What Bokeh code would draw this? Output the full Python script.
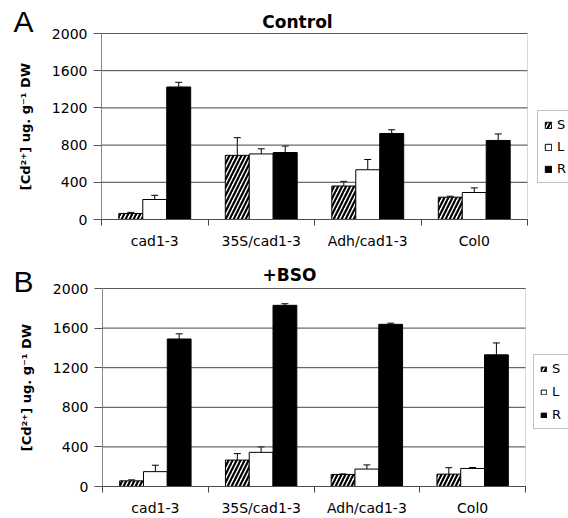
from bokeh.plotting import figure
from bokeh.models import (ColumnDataSource, Whisker, TeeHead, Legend, LegendItem,
                          Label, FixedTicker, Range1d, LinearAxis, BoxAnnotation)
from bokeh.layouts import column
from bokeh.embed import file_html
from bokeh.resources import INLINE

# ---------------- data ----------------
categories = ["cad1-3", "35S/cad1-3", "Adh/cad1-3", "Col0"]
series_names = ["S", "L", "R"]
y_ticks = [0, 400, 800, 1200, 1600, 2000]
y_max = 2000

# Panel A: Control
a_S = [65, 690, 360, 240]
a_S_err = [12, 190, 50, 10]
a_L = [215, 705, 535, 290]
a_L_err = [45, 55, 110, 50]
a_R = [1425, 720, 925, 850]
a_R_err = [50, 70, 40, 70]

# Panel B: +BSO
b_S = [57, 267, 122, 125]
b_S_err = [10, 65, 5, 65]
b_L = [150, 345, 176, 182]
b_L_err = [65, 55, 42, 10]
b_R = [1490, 1830, 1638, 1330]
b_R_err = [52, 16, 12, 120]

FONT = "DejaVu Sans"
BAR_W = 0.225
OFFSETS = [-BAR_W, 0.0, BAR_W]
W = 568


def make_panel(letter, title, series, errs, two_sided, height, box, label_standoff,
               legend_loc, glyph_size, legend_spacing, letter_xy, title_xy):
    # box = plot-box edges in figure pixels: left, right, top, bottom (from top-left)
    bl, br, bt, bb = box
    n = len(categories)
    xpx = (br - bl) / n
    ypx = (bb - bt) / y_max
    x_range = Range1d(-bl / xpx, n + (W - br) / xpx)
    y_range = Range1d(-(height - bb) / ypx, y_max + bt / ypx)

    p = figure(width=W, height=height, output_backend="svg", toolbar_location=None,
               x_range=x_range, y_range=y_range, x_axis_type=None, y_axis_type=None,
               min_border=0)
    p.title.visible = False
    p.background_fill_color = "white"
    p.border_fill_color = "white"
    p.outline_line_color = None

    # horizontal grid lines over the plot box only
    p.segment(x0=[0] * len(y_ticks), x1=[n] * len(y_ticks), y0=y_ticks, y1=y_ticks,
              line_color="#444444", line_width=1)

    renderers = []
    for k, (vals, err) in enumerate(zip(series, errs)):
        xs = [i + 0.5 + OFFSETS[k] for i in range(n)]
        if two_sided:
            lower = [v - e for v, e in zip(vals, err)]
        else:
            lower = list(vals)
        upper = [v + e for v, e in zip(vals, err)]
        src = ColumnDataSource(dict(x=xs, top=vals, lower=lower, upper=upper))
        w = Whisker(source=src, base="x", lower="lower", upper="upper",
                    line_color="black", line_width=1,
                    upper_head=TeeHead(size=7, line_color="black", line_width=1),
                    lower_head=(TeeHead(size=7, line_color="black", line_width=1)
                                if two_sided else None))
        if k == 0:
            r = p.vbar(x="x", top="top", width=BAR_W, source=src, fill_color="white",
                       line_color="black", line_width=1, hatch_pattern="/",
                       hatch_color="black", hatch_scale=8, hatch_weight=2.2)
        elif k == 1:
            r = p.vbar(x="x", top="top", width=BAR_W, source=src, fill_color="white",
                       line_color="black", line_width=1)
        else:
            r = p.vbar(x="x", top="top", width=BAR_W, source=src, fill_color="black",
                       line_color="black", line_width=1)
        p.add_layout(w)
        renderers.append(r)

    # plot box outline
    p.add_layout(BoxAnnotation(left=0, right=n, bottom=0, top=y_max,
                               fill_alpha=0, line_color="#888888", line_width=1))

    # x axis (category labels at centres, ticks at group boundaries)
    xaxis = LinearAxis(fixed_location=0, bounds=(0, n),
                       ticker=FixedTicker(ticks=[i + 0.5 for i in range(n)],
                                          minor_ticks=list(range(n + 1))))
    xaxis.major_label_overrides = {i + 0.5: c for i, c in enumerate(categories)}
    xaxis.major_tick_line_color = None
    xaxis.major_tick_out = 0
    xaxis.major_tick_in = 0
    xaxis.minor_tick_line_color = "#444444"
    xaxis.minor_tick_out = 6
    xaxis.minor_tick_in = 0
    xaxis.axis_line_color = "#333333"
    xaxis.major_label_text_font = FONT
    xaxis.major_label_text_font_size = "14px"
    xaxis.major_label_text_color = "black"
    xaxis.major_label_standoff = label_standoff
    p.add_layout(xaxis, "below")

    yaxis = LinearAxis(fixed_location=0, bounds=(0, y_max), ticker=FixedTicker(ticks=y_ticks))
    yaxis.minor_tick_line_color = None
    yaxis.major_tick_out = 8
    yaxis.major_tick_in = 0
    yaxis.major_tick_line_color = "#555555"
    yaxis.axis_line_color = "#888888"
    yaxis.major_label_text_font = FONT
    yaxis.major_label_text_font_size = "14px"
    yaxis.major_label_text_color = "black"
    yaxis.major_label_standoff = 6
    yaxis.axis_label = "[Cd\u00b2\u207a] ug. g\u207b\u00b9 DW"
    yaxis.axis_label_text_font = FONT
    yaxis.axis_label_text_font_size = "13px"
    yaxis.axis_label_text_font_style = "bold"
    yaxis.axis_label_text_color = "black"
    yaxis.axis_label_standoff = 16
    p.add_layout(yaxis, "left")

    # legend
    items = [LegendItem(label=s, renderers=[r]) for s, r in zip(series_names, renderers)]
    leg = Legend(items=items, location=legend_loc, orientation="vertical",
                 glyph_width=glyph_size[0], glyph_height=glyph_size[1],
                 label_height=14, label_standoff=5, spacing=legend_spacing,
                 padding=6, margin=0,
                 border_line_color="#888888", border_line_width=1,
                 background_fill_color="white", background_fill_alpha=1,
                 label_text_font=FONT, label_text_font_size="13px",
                 label_text_color="black")
    p.add_layout(leg, "center")

    # panel letter and title
    p.add_layout(Label(x=letter_xy[0], y=letter_xy[1], x_units="screen", y_units="screen",
                       text=letter, text_font="Liberation Sans",
                       text_font_size="30px", text_color="black",
                       text_baseline="middle", text_align="left"))
    p.add_layout(Label(x=title_xy[0], y=title_xy[1], x_units="screen", y_units="screen",
                       text=title, text_font=FONT, text_font_size="17px",
                       text_font_style="bold", text_color="black",
                       text_baseline="middle", text_align="center"))
    return p


pA = make_panel("A", "Control",
                [a_S, a_L, a_R], [a_S_err, a_L_err, a_R_err], False,
                255, (101, 527, 33, 219), 7, (537, 72), (8, 8), 7,
                (13, 234), (297, 234))
pB = make_panel("B", "+BSO",
                [b_S, b_L, b_R], [b_S_err, b_L_err, b_R_err], True,
                263, (102, 525, 33, 231), 7, (533, 89), (7, 6), 8,
                (13, 237), (289, 244))

layout = column(pA, pB, spacing=0)
open("out.html", "w").write(file_html(layout, INLINE))
